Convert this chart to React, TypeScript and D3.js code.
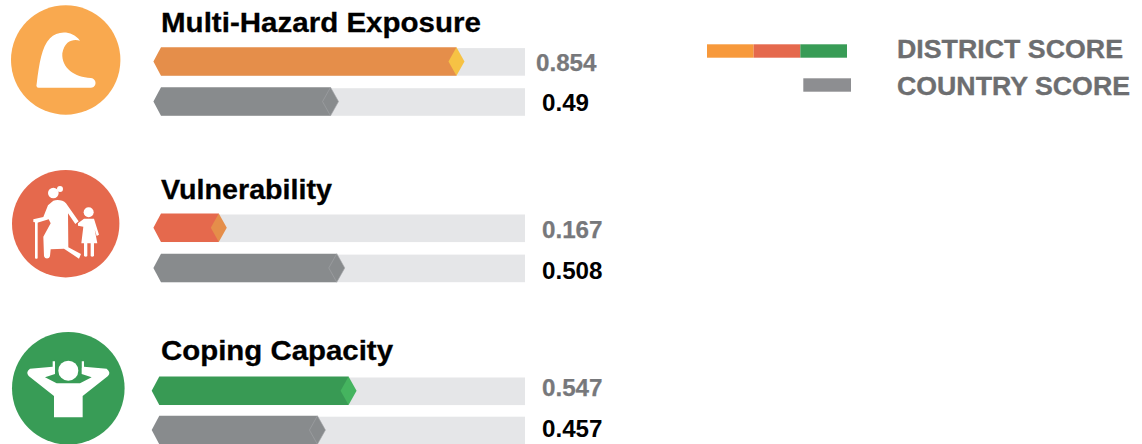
import React from "react";
import * as d3 from "d3";

const titles = ["Multi-Hazard Exposure", "Vulnerability", "Coping Capacity"];
const districtScores = [0.854, 0.167, 0.547];
const countryScores = [0.49, 0.508, 0.457];
const countryLabels = ["0.49", "0.508", "0.457"];
const districtLabels = ["0.854", "0.167", "0.547"];
const barColors = ["#E58E4A", "#E5694D", "#389A54"];
const tipColors = ["#F6C244", "#E58E4A", "#45B45F"];
const iconColors = ["#F9A94F", "#E5694D", "#389C56"];
const legendColors = ["#F7993B", "#E5694D", "#389C56"];
const legendLabels = ["DISTRICT SCORE", "COUNTRY SCORE"];

const GREY = "#888B8D";
const TRACK = "#E5E6E8";
const FONT = "'Liberation Sans', Arial, sans-serif";
const BAR_H = 28.5;

const layout = [
  { x0: 161, titleY: 32, titleW: 320, distY: 47.2, countryY: 87.3, distTextY: 71, countryTextY: 111, distTextX: 536, countryTextX: 542 },
  { x0: 161, titleY: 199, titleW: 171, distY: 213.6, countryY: 253.7, distTextY: 238, countryTextY: 279, distTextX: 542, countryTextX: 542 },
  { x0: 159.3, titleY: 360, titleW: 232, distY: 376.6, countryY: 415.8, distTextY: 396, countryTextY: 437, distTextX: 542, countryTextX: 542 },
];

const poly = d3.line<[number, number]>().x((d) => d[0]).y((d) => d[1]);
const closed = (pts: [number, number][]) => poly(pts) + "Z";

function Bar({ x0, y, value, fill, tip, tipStroke }: { x0: number; y: number; value: number; fill: string; tip: string; tipStroke?: string }) {
  const scale = d3.scaleLinear().domain([0, 1]).range([x0, x0 + 346]);
  const x = scale(value);
  const mid = y + BAR_H / 2;
  const hw = 8;
  return (
    <g>
      <rect x={x0} y={y + 0.9} width={525 - x0} height={BAR_H - 0.9} fill={TRACK} />
      <path d={closed([[x0 - 7.6, mid], [x0, y], [x, y], [x, y + BAR_H], [x0, y + BAR_H]])} fill={fill} />
      <path d={closed([[x - hw, mid], [x, y], [x + hw, mid], [x, y + BAR_H]])} fill={tip} stroke={tipStroke} strokeWidth={tipStroke ? 0.6 : 0} />
    </g>
  );
}

function WaveIcon({ color }: { color: string }) {
  return (
    <g>
      <circle cx={65.7} cy={60} r={54.7} fill={color} />
      <g transform="scale(0.3333)">
        <path
          fill="#fff"
          d="M110 252 C118 190 125 140 150 115 C172 92 215 90 240 122 C222 116 194 120 187 160 C184 205 225 232 272 234 C286 235 290 250 284 257 C280 263 274 263 268 263 L116 263 C110 263 108 258 110 252 Z"
        />
      </g>
    </g>
  );
}

function ElderIcon({ color }: { color: string }) {
  return (
    <g>
      <circle cx={65.7} cy={223.7} r={53.7} fill={color} />
      <g transform="translate(0 160) scale(0.3333)" fill="#fff">
        <circle cx={160} cy={99} r={16} />
        <circle cx={180} cy={87} r={9} />
        <path d="M160 122 C172 118 190 120 198 130 L236 184 L226 192 L204 160 L205 262 L243 282 L237 296 L192 266 L152 268 L150 288 C148 298 134 298 132 288 L130 230 L152 190 L146 178 L112 188 L100 186 L100 178 L130 171 L144 136 Z" />
        <rect x={105} y={182} width={8} height={114} rx={3} />
        <circle cx={266} cy={157} r={15} />
        <path d="M252 176 L282 176 L297 224 L290 228 L284 208 L292 250 L282 250 L282 288 Q276 292 272 288 L272 250 L262 250 L262 288 Q258 292 252 288 L252 250 L244 250 L250 200 L234 197 L234 190 Z" />
      </g>
    </g>
  );
}

function RelaxIcon({ color }: { color: string }) {
  return (
    <g>
      <circle cx={68.3} cy={388.3} r={56.3} fill={color} />
      <g transform="translate(0 324) scale(0.3333)">
        <path
          fill="#fff"
          d="M158 112 L165 112 L165 132 L244 132 L244 112 L252 112 L252 128 L320 134 Q334 146 324 156 L248 216 L248 280 L162 280 L162 216 L86 156 Q76 144 90 134 L158 128 Z"
        />
        <path fill={color} d="M165 105 L245 105 L245 150 L275 160 L240 178 L170 178 L135 160 L165 150 Z" />
        <circle cx={205} cy={140} r={30} fill="#fff" />
      </g>
    </g>
  );
}

const icons = [WaveIcon, ElderIcon, RelaxIcon];

export default function App() {
  const legendX = d3.scaleBand<number>().domain([0, 1, 2]).range([707, 847]);
  return (
    <svg width={1142} height={444} style={{ position: "absolute", left: 0, top: 0, background: "#fff" }} fontFamily={FONT} fontWeight="bold">
      {titles.map((t, i) => {
        const l = layout[i];
        const Icon = icons[i];
        return (
          <g key={t}>
            <Icon color={iconColors[i]} />
            <text x={161} y={l.titleY} fontSize={28.5} fill="#000" stroke="#000" strokeWidth={0.3} textLength={l.titleW} lengthAdjust="spacingAndGlyphs">{t}</text>
            <Bar x0={l.x0} y={l.distY} value={districtScores[i]} fill={barColors[i]} tip={tipColors[i]} />
            <Bar x0={l.x0} y={l.countryY} value={countryScores[i]} fill={GREY} tip={GREY} tipStroke="#A2A5A7" />
            <text x={l.distTextX} y={l.distTextY} fontSize={24.2} fill="#77787B" stroke="#77787B" strokeWidth={0.25}>{districtLabels[i]}</text>
            <text x={l.countryTextX} y={l.countryTextY} fontSize={24.2} fill="#000">{countryLabels[i]}</text>
          </g>
        );
      })}
      {legendColors.map((c, i) => (
        <rect key={c} x={legendX(i)} y={44.3} width={legendX.bandwidth()} height={13.4} fill={c} />
      ))}
      <rect x={803.3} y={78.3} width={47.7} height={13.4} fill="#8D8E91" />
      <text x={897} y={58} fontSize={26.2} fill="#6D6E70" stroke="#6D6E70" strokeWidth={0.35} textLength={226} lengthAdjust="spacingAndGlyphs">{legendLabels[0]}</text>
      <text x={897} y={95} fontSize={26.2} fill="#6D6E70" stroke="#6D6E70" strokeWidth={0.35} textLength={233} lengthAdjust="spacingAndGlyphs">{legendLabels[1]}</text>
    </svg>
  );
}
